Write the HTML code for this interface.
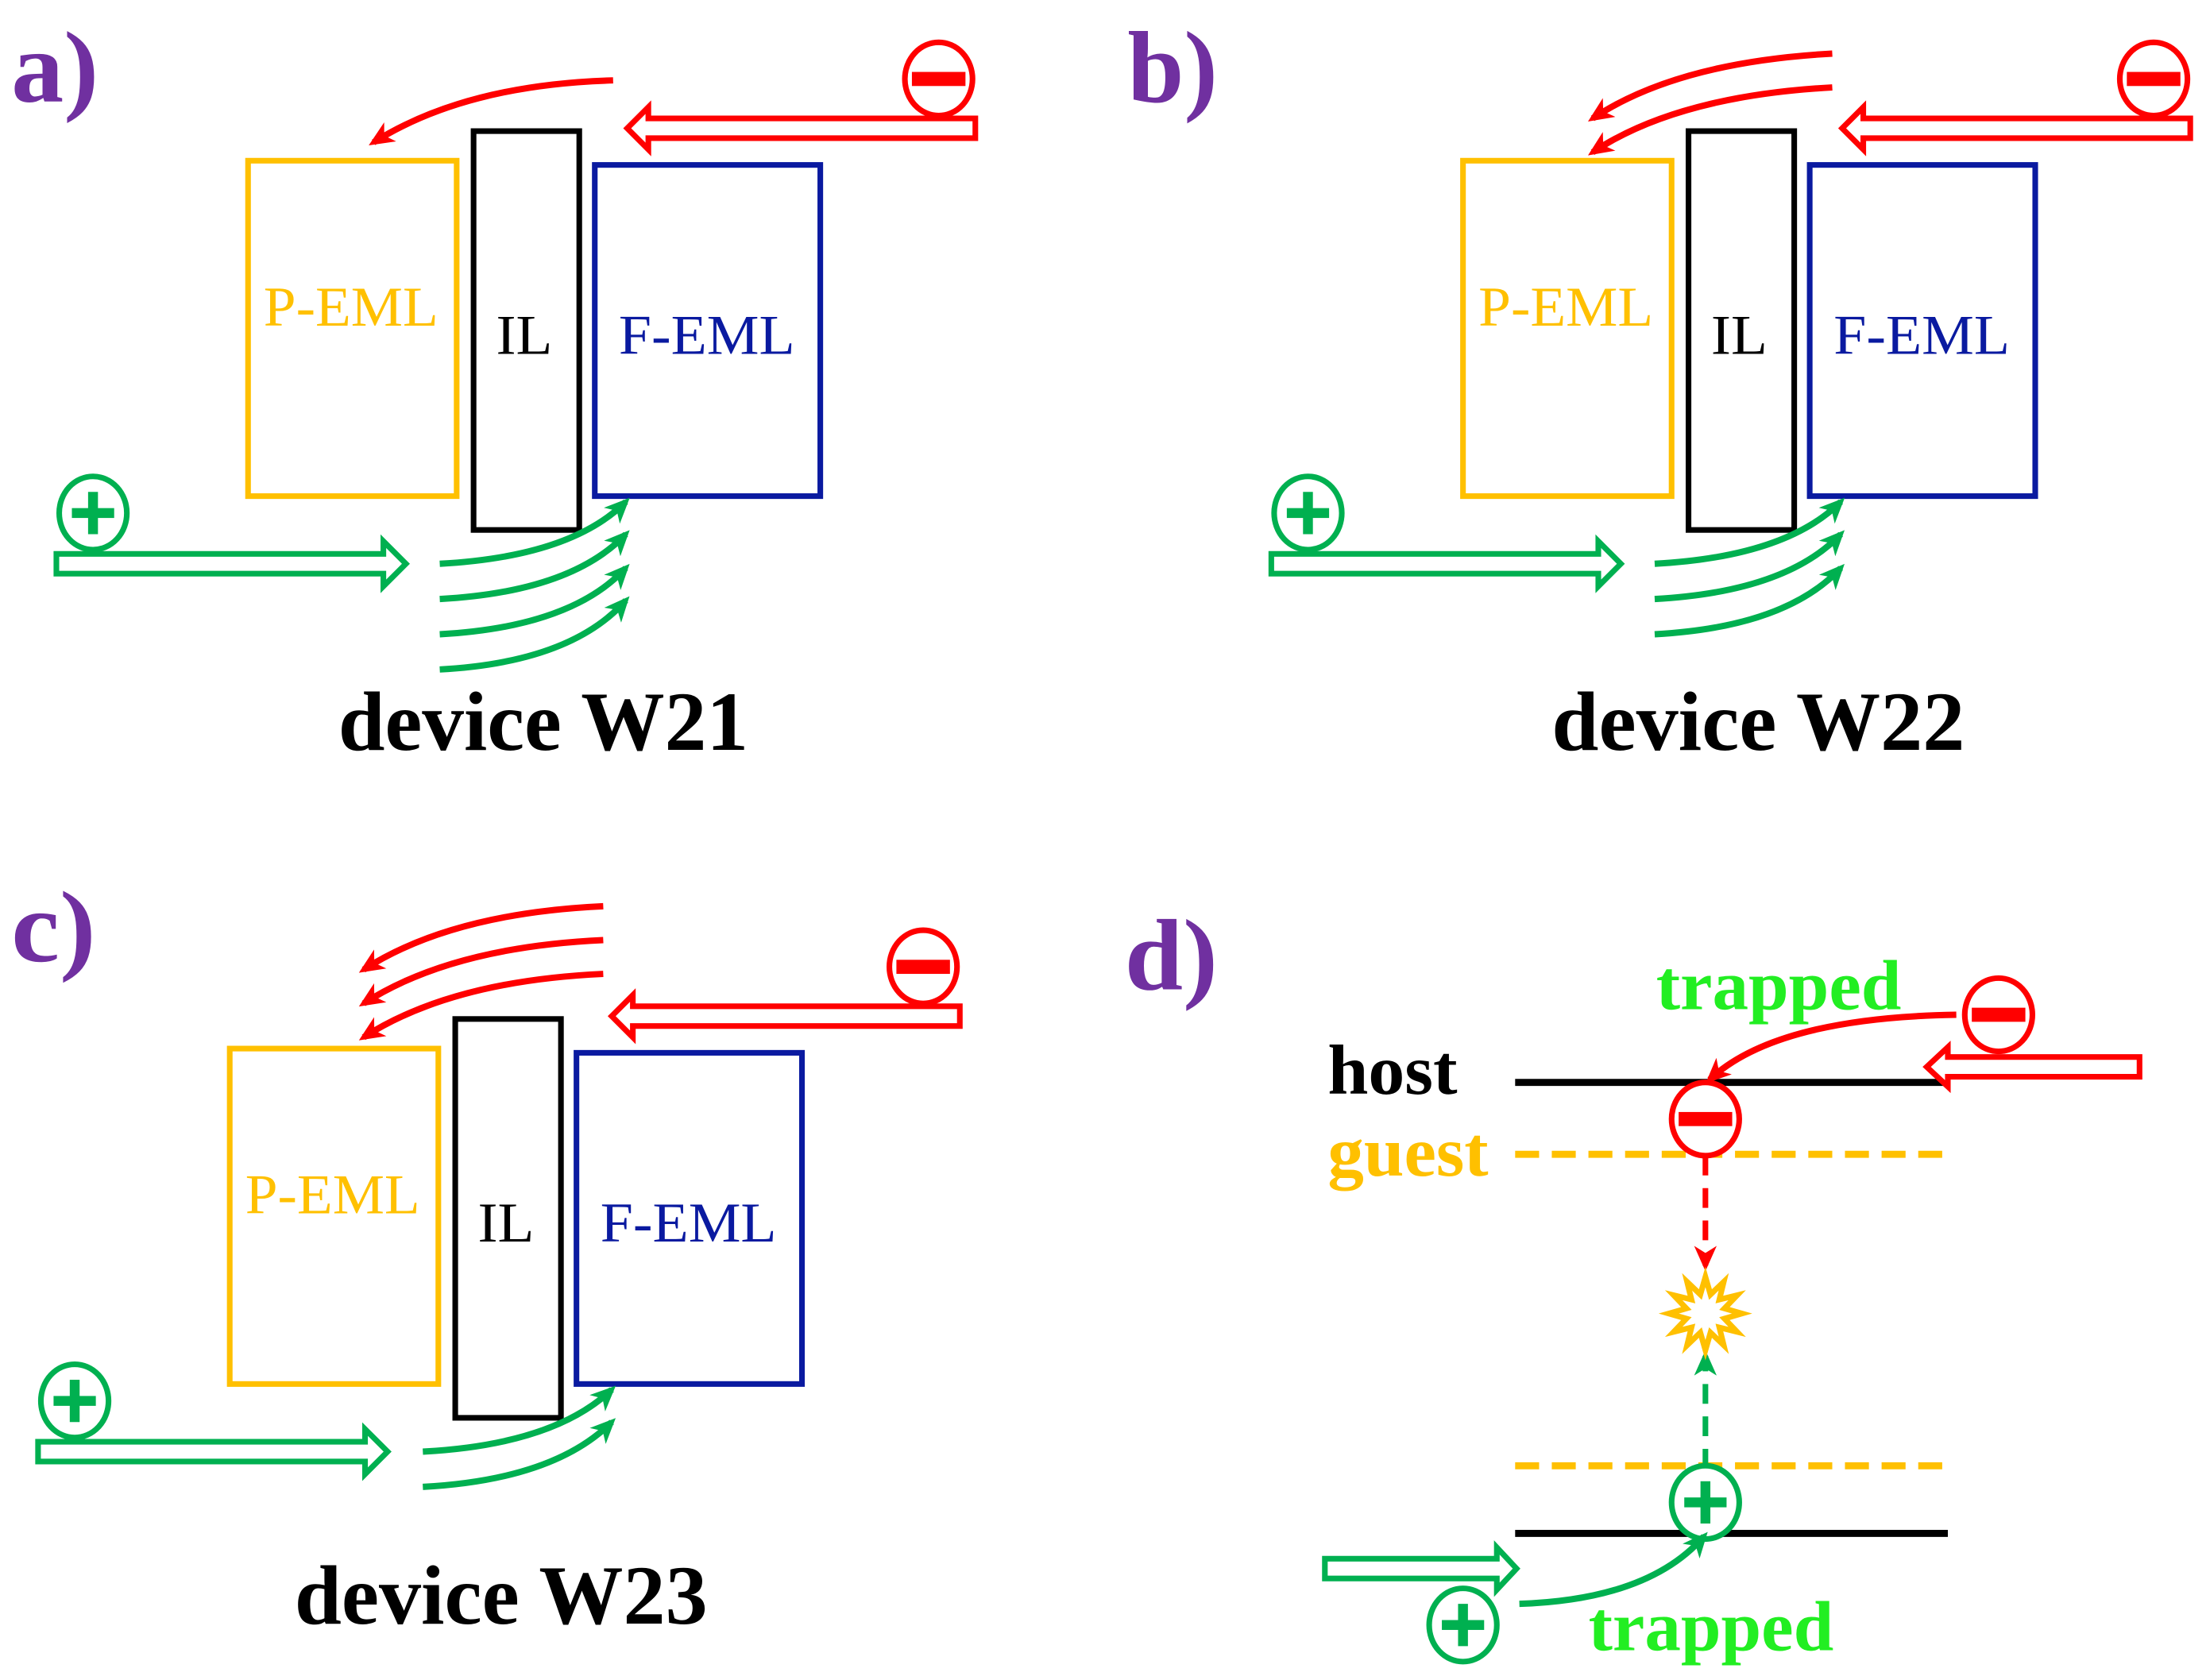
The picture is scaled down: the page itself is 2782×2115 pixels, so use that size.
<!DOCTYPE html>
<html><head><meta charset="utf-8"><style>html,body{margin:0;padding:0;background:#fff}svg{display:block}</style></head>
<body>
<svg width="2782" height="2115" viewBox="0 0 1568 1192" xmlns="http://www.w3.org/2000/svg">
<defs>
<marker id="ar" markerUnits="userSpaceOnUse" markerWidth="20" markerHeight="20" refX="14" refY="10" orient="auto"><path d="M0,2 L18,10 L0,18 L5,10 Z" fill="#FF0000"/></marker>
<marker id="ag" markerUnits="userSpaceOnUse" markerWidth="20" markerHeight="20" refX="14" refY="10" orient="auto"><path d="M0,2 L18,10 L0,18 L5,10 Z" fill="#00B050"/></marker>
<g id="minus"><ellipse cx="0" cy="0" rx="24" ry="26" fill="#fff" stroke="#FF0000" stroke-width="4"/><rect x="-19" y="-5" width="38" height="10" fill="#FF0000"/></g>
<g id="plus"><ellipse cx="0" cy="0" rx="24" ry="26" fill="#fff" stroke="#00B050" stroke-width="4"/><rect x="-15" y="-3.5" width="30" height="7" fill="#00B050"/><rect x="-3.5" y="-15" width="7" height="30" fill="#00B050"/></g>
<g id="boxes" font-family="Liberation Serif, serif">
<rect x="176" y="114" width="148" height="238" fill="none" stroke="#FFC000" stroke-width="4"/>
<rect x="336" y="93" width="75" height="283" fill="none" stroke="#000" stroke-width="4"/>
<rect x="422" y="117" width="160" height="235" fill="none" stroke="#0A1AA0" stroke-width="4"/>
<text x="187" y="231" font-size="40" fill="#FFC000" textLength="124" lengthAdjust="spacingAndGlyphs">P-EML</text>
<text x="352" y="251" font-size="40" fill="#000" textLength="40" lengthAdjust="spacingAndGlyphs">IL</text>
<text x="439" y="251" font-size="40" fill="#0A1AA0" textLength="125" lengthAdjust="spacingAndGlyphs">F-EML</text>
</g>
</defs>

<g font-family="Liberation Serif, serif" font-weight="bold">
<text x="8" y="72" font-size="72" fill="#7030A0" textLength="62" lengthAdjust="spacingAndGlyphs">a)</text>
<text x="800" y="72" font-size="72" fill="#7030A0" textLength="64" lengthAdjust="spacingAndGlyphs">b)</text>
<text x="8" y="682" font-size="72" fill="#7030A0" textLength="60" lengthAdjust="spacingAndGlyphs">c)</text>
<text x="798" y="702" font-size="72" fill="#7030A0" textLength="66" lengthAdjust="spacingAndGlyphs">d)</text>
<text x="240" y="532" font-size="60" textLength="291" lengthAdjust="spacingAndGlyphs" fill="#000">device W21</text>
<text x="1101" y="532" font-size="60" textLength="293" lengthAdjust="spacingAndGlyphs" fill="#000">device W22</text>
<text x="209" y="1152" font-size="60" textLength="293" lengthAdjust="spacingAndGlyphs" fill="#000">device W23</text>
</g>

<!-- panel a -->
<use href="#boxes"/>
<use href="#minus" x="666" y="56"/>
<polygon points="692,84 460,84 460,76 445,91 460,106 460,98 692,98" fill="#fff" stroke="#FF0000" stroke-width="4"/>
<path d="M435,57 Q330,60 265,101" fill="none" stroke="#FF0000" stroke-width="4.5" marker-end="url(#ar)"/>
<use href="#plus" x="66" y="364"/>
<polygon points="40,393 272,393 272,384 288,400 272,416 272,407 40,407" fill="#fff" stroke="#00B050" stroke-width="4"/>
<g fill="none" stroke="#00B050" stroke-width="4.5" marker-end="url(#ag)">
<path d="M312,400 Q405,395 444,356"/><path d="M312,425 Q405,420 444,379"/><path d="M312,450 Q405,445 444,403"/><path d="M312,475 Q405,470 444,426"/>
</g>

<!-- panel b -->
<use href="#boxes" transform="translate(862,0)"/>
<use href="#minus" x="1528" y="56"/>
<polygon points="1554,84 1322,84 1322,76 1307,91 1322,106 1322,98 1554,98" fill="#fff" stroke="#FF0000" stroke-width="4"/>
<g fill="none" stroke="#FF0000" stroke-width="4.5" marker-end="url(#ar)">
<path d="M1300,38 Q1190,44 1130,84"/><path d="M1300,62 Q1190,68 1130,108"/>
</g>
<use href="#plus" x="928" y="364"/>
<polygon points="902,393 1134,393 1134,384 1150,400 1134,416 1134,407 902,407" fill="#fff" stroke="#00B050" stroke-width="4"/>
<g fill="none" stroke="#00B050" stroke-width="4.5" marker-end="url(#ag)">
<path d="M1174,400 Q1267,395 1306,356"/><path d="M1174,425 Q1267,420 1306,379"/><path d="M1174,450 Q1267,445 1306,403"/>
</g>

<!-- panel c -->
<use href="#boxes" transform="translate(-13,630)"/>
<use href="#minus" x="655" y="686"/>
<polygon points="681,714 449,714 449,706 434,721 449,736 449,728 681,728" fill="#fff" stroke="#FF0000" stroke-width="4"/>
<g fill="none" stroke="#FF0000" stroke-width="4.5" marker-end="url(#ar)">
<path d="M428,643 Q320,648 258,688"/><path d="M428,667 Q320,672 258,712"/><path d="M428,691 Q320,696 258,736"/>
</g>
<use href="#plus" x="53" y="994"/>
<polygon points="27,1023 259,1023 259,1014 275,1030 259,1046 259,1037 27,1037" fill="#fff" stroke="#00B050" stroke-width="4"/>
<g fill="none" stroke="#00B050" stroke-width="4.5" marker-end="url(#ag)">
<path d="M300,1030 Q393,1025 434,986"/><path d="M300,1055 Q393,1050 434,1009"/>
</g>

<!-- panel d -->
<g font-family="Liberation Serif, serif" font-weight="bold">
<text x="942" y="776" font-size="50" fill="#000" textLength="92" lengthAdjust="spacingAndGlyphs">host</text>
<text x="942" y="834" font-size="50" fill="#FFC000" textLength="114" lengthAdjust="spacingAndGlyphs">guest</text>
<text x="1175" y="716" font-size="50" fill="#22EE22" textLength="174" lengthAdjust="spacingAndGlyphs">trapped</text>
<text x="1127" y="1171" font-size="50" fill="#22EE22" textLength="174" lengthAdjust="spacingAndGlyphs">trapped</text>
</g>
<line x1="1075" y1="768" x2="1382" y2="768" stroke="#000" stroke-width="5"/>
<line x1="1075" y1="1088" x2="1382" y2="1088" stroke="#000" stroke-width="5"/>
<line x1="1075" y1="819" x2="1382" y2="819" stroke="#FFC000" stroke-width="5" stroke-dasharray="17,9"/>
<line x1="1075" y1="1040" x2="1382" y2="1040" stroke="#FFC000" stroke-width="5" stroke-dasharray="17,9"/>
<line x1="1210" y1="820" x2="1210" y2="898" stroke="#FF0000" stroke-width="4" stroke-dasharray="14,9" marker-end="url(#ar)"/>
<line x1="1210" y1="1042" x2="1210" y2="962" stroke="#00B050" stroke-width="4" stroke-dasharray="14,9" marker-end="url(#ag)"/>
<polygon points="1236,932 1223.5,935.6 1232.5,945 1219.9,941.9 1223,954.5 1213.6,945.5 1210,958 1206.4,945.5 1197,954.5 1200.1,941.9 1187.5,945 1196.5,935.6 1184,932 1196.5,928.4 1187.5,919 1200.1,922.1 1197,909.5 1206.4,918.5 1210,906 1213.6,918.5 1223,909.5 1219.9,922.1 1232.5,919 1223.5,928.4" fill="#fff" stroke="#FFC000" stroke-width="4"/>
<use href="#minus" x="1210" y="794"/>
<use href="#plus" x="1210" y="1066"/>
<use href="#minus" x="1418" y="720"/>
<polygon points="1518,750 1382,750 1382,743 1367,757 1382,771 1382,764 1518,764" fill="#fff" stroke="#FF0000" stroke-width="4"/>
<path d="M1388,720 Q1260,722 1213,766" fill="none" stroke="#FF0000" stroke-width="4.5" marker-end="url(#ar)"/>
<polygon points="940,1106 1062,1106 1062,1098 1076,1113 1062,1128 1062,1120 940,1120" fill="#fff" stroke="#00B050" stroke-width="4"/>
<use href="#plus" x="1038" y="1153"/>
<path d="M1078,1138 Q1170,1135 1209,1090" fill="none" stroke="#00B050" stroke-width="4.5" marker-end="url(#ag)"/>
</svg>
</body></html>
